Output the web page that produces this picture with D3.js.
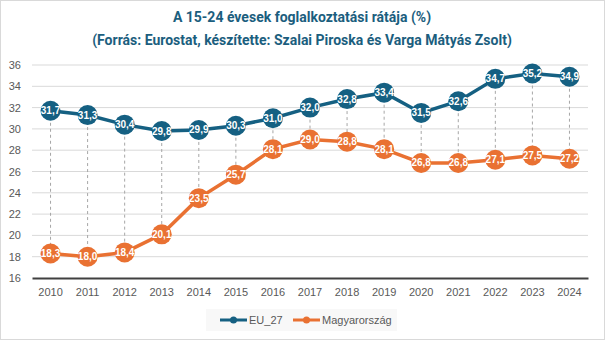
<!DOCTYPE html>
<html>
<head>
<meta charset="utf-8">
<script src="https://cdn.jsdelivr.net/npm/d3@7"></script>
<style>
  body { margin: 0; background: #fff; }
  svg { display: block; }
</style>
</head>
<body>
<svg id="chart" width="605" height="340"></svg>
<script>
// --- data ---
const years = ["2010","2011","2012","2013","2014","2015","2016","2017","2018","2019","2020","2021","2022","2023","2024"];
const eu27 = [31.7,31.3,30.4,29.8,29.9,30.3,31.0,32.0,32.8,33.4,31.5,32.6,34.7,35.2,34.9];
const hungary = [18.3,18.0,18.4,20.1,23.5,25.7,28.1,29.0,28.8,28.1,26.8,26.8,27.1,27.5,27.2];
const yTicks = [16,18,20,22,24,26,28,30,32,34,36];
const seriesNames = ["EU_27", "Magyarország"];
const seriesColors = ["#156082", "#E97132"];

const W = 605, H = 340;
const plot = {left: 32, right: 588, top: 65, bottom: 278};
const font = "'Liberation Sans', Arial, sans-serif";

const svg = d3.select("#chart");
const huFormat = d3.formatLocale({decimal: ",", thousands: " ", grouping: [3], currency: ["", ""]}).format(".1f");

// outer border
svg.append("rect")
    .attr("x", 0.5).attr("y", 0.5)
    .attr("width", W - 1).attr("height", H - 1)
    .attr("fill", "#fff")
    .attr("stroke", "#d9d9d9");

// title
const title = svg.append("text")
    .attr("text-anchor", "middle")
    .attr("fill", "#1b5e7e")
    .style("font-family", "'Liberation Sans Narrow', 'Roboto', sans-serif")
    .style("font-weight", "bold")
    .style("font-size", "14px");
title.append("tspan").attr("x", 302).attr("y", 22).text("A 15-24 évesek foglalkoztatási rátája (%)");
title.append("tspan").attr("x", 302).attr("y", 45).text("(Forrás: Eurostat, készítette: Szalai Piroska és Varga Mátyás Zsolt)");

// scales
const x = d3.scaleBand().domain(years).range([plot.left, plot.right]).padding(0);
const cx = d => x(d) + x.bandwidth() / 2;
const y = d3.scaleLinear().domain([16, 36]).range([plot.bottom, plot.top]);

// gridlines
svg.append("g")
    .selectAll("line")
    .data(yTicks.filter(t => t > 16))
    .join("line")
    .attr("x1", plot.left).attr("x2", plot.right)
    .attr("y1", d => y(d)).attr("y2", d => y(d))
    .attr("stroke", "#d9d9d9")
    .attr("stroke-width", 1);

// y axis labels
const yAxis = svg.append("g")
    .attr("transform", `translate(${plot.left},0)`)
    .call(d3.axisLeft(y).tickValues(yTicks).tickSize(0).tickPadding(11).tickFormat(d3.format("d")));
yAxis.select(".domain").remove();
yAxis.selectAll("text")
    .style("font-family", font).style("font-size", "11px").attr("fill", "#595959");

// x axis
const xAxis = svg.append("g")
    .attr("transform", `translate(0,${plot.bottom})`)
    .call(d3.axisBottom(x).tickSize(0).tickPadding(10));
xAxis.select(".domain").attr("stroke", "#404040").attr("stroke-width", 2);
xAxis.selectAll("text")
    .style("font-family", font).style("font-size", "11px").attr("fill", "#595959");

// drop lines between the two series
svg.append("g")
    .selectAll("line")
    .data(years)
    .join("line")
    .attr("x1", d => cx(d)).attr("x2", d => cx(d))
    .attr("y1", (d, i) => y(eu27[i])).attr("y2", (d, i) => y(hungary[i]))
    .attr("stroke", "#a6a6a6")
    .attr("stroke-width", 1)
    .attr("stroke-dasharray", "3,3");

// series
const line = d3.line().x(d => cx(d.year)).y(d => y(d.v));
[eu27, hungary].forEach((vals, si) => {
    const pts = vals.map((v, i) => ({year: years[i], v}));
    const g = svg.append("g");
    g.append("path")
        .datum(pts)
        .attr("d", line)
        .attr("fill", "none")
        .attr("stroke", seriesColors[si])
        .attr("stroke-width", 3.5);
    g.selectAll("circle")
        .data(pts)
        .join("circle")
        .attr("cx", d => cx(d.year)).attr("cy", d => y(d.v))
        .attr("r", 10)
        .attr("fill", seriesColors[si]);
    g.selectAll("text")
        .data(pts)
        .join("text")
        .attr("x", d => cx(d.year)).attr("y", d => y(d.v))
        .attr("dy", "0.35em")
        .attr("text-anchor", "middle")
        .attr("fill", "#fff")
        .style("font-family", font)
        .style("font-weight", "bold")
        .style("font-size", "10px")
        .text(d => huFormat(d.v));
});

// legend
const legend = svg.append("g");
legend.append("rect")
    .attr("x", 206).attr("y", 309)
    .attr("width", 191).attr("height", 22)
    .attr("fill", "#f8f8f8");
const legendX = [220, 293];
seriesNames.forEach((name, i) => {
    const lg = legend.append("g").attr("transform", `translate(${legendX[i]},320)`);
    lg.append("line").attr("x1", 0).attr("x2", 27).attr("stroke", seriesColors[i]).attr("stroke-width", 3);
    lg.append("circle").attr("cx", 13.5).attr("r", 3.5).attr("fill", seriesColors[i]);
    lg.append("text")
        .attr("x", 29).attr("dy", "0.35em")
        .attr("fill", "#595959")
        .style("font-family", font).style("font-size", "11px")
        .text(name);
});
</script>
</body>
</html>
